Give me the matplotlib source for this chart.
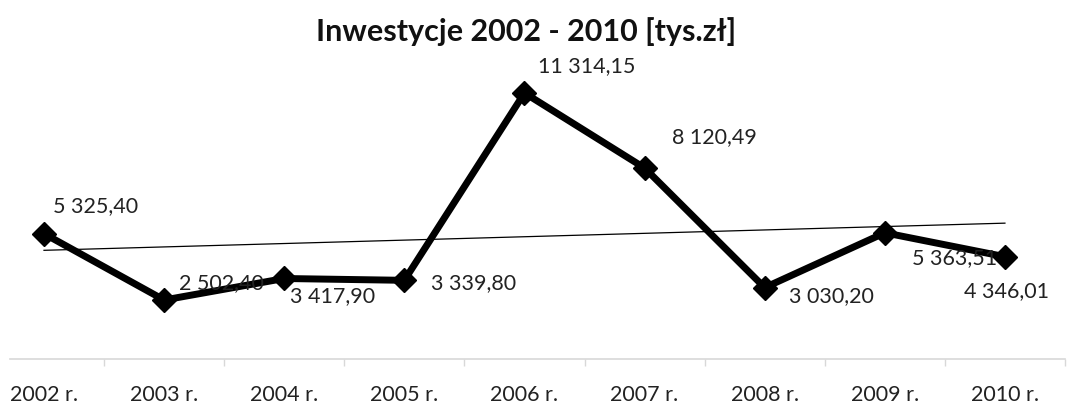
import numpy as np
import matplotlib
matplotlib.use("Agg")
import matplotlib.pyplot as plt
from matplotlib.ticker import FixedLocator

plt.rcParams['font.family'] = ['Lato', 'DejaVu Sans']

years = ["2002 r.", "2003 r.", "2004 r.", "2005 r.", "2006 r.",
         "2007 r.", "2008 r.", "2009 r.", "2010 r."]
values = [5325.40, 2502.40, 3417.90, 3339.80, 11314.15,
          8120.49, 3030.20, 5363.51, 4346.01]

# label offsets (points) relative to each marker
label_offsets = [(37, 20), (41, 12), (35, -13), (50, -2), (45, 19),
                 (50, 22), (48, -6), (50, -18), (1, -25)]


def fmt_pl(v):
    return f"{v:,.2f}".replace(",", " ").replace(".", ",")


fig = plt.figure(figsize=(10.86, 4.08), dpi=100)
ax = fig.add_axes([10 / 1086, 0.1206, 1055 / 1086, 0.691])

x = np.arange(len(values))
ax.plot(x, values, color="black", lw=5, marker="D", ms=12,
        mfc="black", mec="black", solid_joinstyle="miter", zorder=3)

# linear trend
coef = np.polyfit(x, values, 1)
ax.plot(x, np.polyval(coef, x), color="black", lw=0.9, zorder=2)

for xi, v, (dx, dy) in zip(x, values, label_offsets):
    ax.annotate(fmt_pl(v), (xi, v), xytext=(dx, dy), textcoords="offset points",
                ha="center", va="center", fontsize=15.5, color="#222222", zorder=4)

ax.set_xlim(-0.283, 8.5)
ax.set_ylim(0, 12000)
ax.set_xticks(x)
ax.set_xticklabels(years, fontsize=15.5, color="#222222")
ax.tick_params(axis="x", which="major", length=0, pad=19)
ax.xaxis.set_minor_locator(FixedLocator(np.arange(0.5, 8.6, 1.0)))
ax.tick_params(axis="x", which="minor", length=5, width=1, color="#d8d8d8")
ax.set_yticks([])
for s in ("top", "right", "left"):
    ax.spines[s].set_visible(False)
ax.spines["bottom"].set_color("#d8d8d8")
ax.spines["bottom"].set_linewidth(1.2)

fig.text(526 / 1086, 1 - 32 / 408, "Inwestycje 2002 - 2010 [tys.zł]",
         ha="center", va="center", fontsize=22, fontweight="bold", color="#111111")

fig.savefig("out.png", dpi=100, facecolor="white")
